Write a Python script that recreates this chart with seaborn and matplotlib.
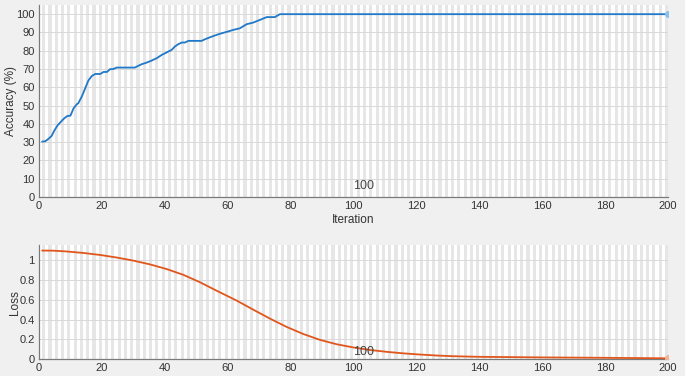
import matplotlib
matplotlib.use("Agg")
import matplotlib.pyplot as plt
import seaborn as sns
import pandas as pd

# ---- data ----
acc_iter = [1, 2, 3, 4, 5, 6, 7, 8, 9, 10, 11, 12, 12.5, 13.6, 14.7, 15.7, 16.8, 17.9, 19.5,
            20.5, 21.6, 22.6, 23.6, 24.7, 27.3, 30.5, 31.5, 32.6, 34.2, 35.8, 37.4, 39,
            40.5, 42.2, 43.2, 44.3, 45.4, 46.4, 47.5, 50.7, 51.7, 52.8, 54.9, 57, 60.2,
            61.8, 63.9, 66, 68.1, 70.3, 72.4, 75, 76.6, 78, 100, 150, 200]
acc_vals = [30.3, 30.5, 31.8, 33.4, 36.7, 39.4, 41.2, 43.0, 44.3, 44.5, 48.5, 50.7, 51.3,
            54.9, 59.5, 63.7, 66.2, 67.3, 67.3, 68.4, 68.4, 69.9, 70.0, 70.8, 70.8, 70.8,
            71.7, 72.6, 73.5, 74.6, 75.9, 77.7, 79.0, 80.5, 82.3, 83.6, 84.5, 84.5, 85.4,
            85.4, 85.4, 86.3, 87.7, 89.0, 90.6, 91.4, 92.3, 94.5, 95.4, 96.9, 98.4, 98.4,
            100, 100, 100, 100, 100]

loss_iter = [1, 4.6, 8.8, 14.1, 19.4, 24.7, 30, 35.3, 40.6, 45.9, 51.2, 56.5, 62.9, 68.1,
             73.4, 78.8, 84, 89.3, 94.7, 100, 105.2, 110.6, 115.8, 121.1, 126.5, 131.7,
             140, 160, 180, 200]
loss_vals = [1.094, 1.093, 1.085, 1.070, 1.050, 1.024, 0.993, 0.955, 0.908, 0.850, 0.775,
             0.690, 0.590, 0.500, 0.410, 0.325, 0.255, 0.196, 0.151, 0.119, 0.094, 0.075,
             0.060, 0.048, 0.038, 0.031, 0.025, 0.019, 0.015, 0.010]

x_ticks = [0, 20, 40, 60, 80, 100, 120, 140, 160, 180, 200]
acc_ticks = [0, 10, 20, 30, 40, 50, 60, 70, 80, 90, 100]
loss_ticks = [0, 0.2, 0.4, 0.6, 0.8, 1]
loss_tick_labels = ["0", "0.2", "0.4", "0.6", "0.8", "1"]
epoch_label = "100"
epoch_iter = 100

acc_df = pd.DataFrame({"Iteration": acc_iter, "Accuracy": acc_vals})
loss_df = pd.DataFrame({"Iteration": loss_iter, "Loss": loss_vals})

sns.set_style("white")
plt.rcParams["font.family"] = ["Liberation Sans", "DejaVu Sans"]

BLUE = "#1f78c8"
ORANGE = "#e0561c"
TXT = "#333333"
SPINE = "#7a7a7a"

fig = plt.figure(figsize=(6.85, 3.76), dpi=100, facecolor="#f0f0f0")
ax1 = fig.add_axes([0.0569, 0.476, 0.9183, 0.5106])
ax2 = fig.add_axes([0.0569, 0.0444, 0.9183, 0.304])


def style(ax, ylim, yticks, ylabels=None):
    ax.set_facecolor("white")
    ax.set_xlim(0, 200)
    ax.set_ylim(*ylim)
    for k in range(1, 200, 2):
        ax.axvspan(k, k + 1, color="#e6e6e6", lw=0, zorder=0)
    ax.set_xticks(x_ticks)
    ax.set_yticks(yticks)
    if ylabels is not None:
        ax.set_yticklabels(ylabels)
    for y in yticks:
        ax.axhline(y, color="#d9d9d9", lw=0.7, zorder=0.5)
    for s in ["top", "right"]:
        ax.spines[s].set_visible(False)
    for s in ["left", "bottom"]:
        ax.spines[s].set_color(SPINE)
        ax.spines[s].set_linewidth(0.9)
    ax.tick_params(direction="in", length=4, width=0.8, color="#555555",
                   labelsize=8, labelcolor=TXT, pad=3)


style(ax1, (0, 105), acc_ticks)
style(ax2, (0, 1.15), loss_ticks, loss_tick_labels)

sns.lineplot(data=acc_df, x="Iteration", y="Accuracy", ax=ax1, color=BLUE, lw=1.3, zorder=3)
ax1.plot([acc_iter[-1]], [acc_vals[-1]], "o", ms=4, color="#8cc0ea", zorder=4)
sns.lineplot(data=loss_df, x="Iteration", y="Loss", ax=ax2, color=ORANGE, lw=1.3, zorder=3)
ax2.plot([loss_iter[-1]], [loss_vals[-1]], "o", ms=4, color="#f4b496", zorder=4)

ax1.set_ylabel("Accuracy (%)", fontsize=8.5, color=TXT)
ax1.yaxis.set_label_coords(-0.035, 0.5)
ax1.set_xlabel("Iteration", fontsize=8.5, color=TXT, labelpad=2)
ax2.set_ylabel("Loss", fontsize=8.5, color=TXT)
ax2.yaxis.set_label_coords(-0.029, 0.5)
ax2.set_xlabel("")

ax1.text(epoch_iter, 2.5, epoch_label, fontsize=9, color="#444444", ha="left", va="bottom", zorder=5)
ax2.text(epoch_iter, 0.077, epoch_label, fontsize=9, color="#444444", ha="left", va="center", zorder=5)

fig.savefig("out.png", dpi=100, facecolor=fig.get_facecolor())
